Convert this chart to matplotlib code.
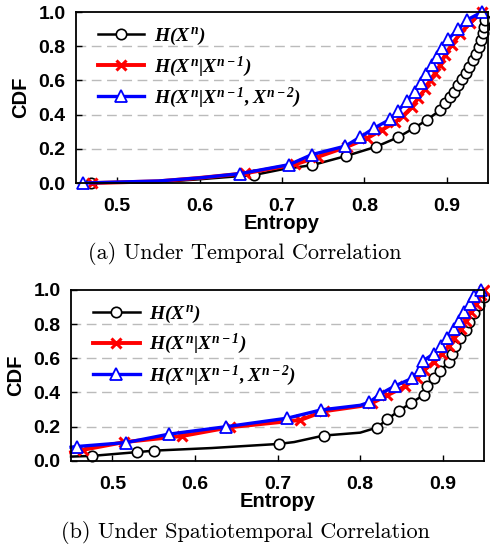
import numpy as np
import matplotlib.pyplot as plt

plt.rcParams['font.family'] = 'Liberation Sans'
plt.rcParams['font.weight'] = 'bold'
plt.rcParams['mathtext.fontset'] = 'custom'
plt.rcParams['mathtext.rm'] = 'Liberation Serif:italic:bold'
plt.rcParams['mathtext.it'] = 'Liberation Serif:italic:bold'
plt.rcParams['mathtext.bf'] = 'Liberation Serif:italic:bold'

labels = [r'$H(X^{n})$', r'$H(X^{n}|X^{n-1})$', r'$H(X^{n}|X^{n-1}, X^{n-2})$']
captions = ['(a) Under Temporal Correlation', '(b) Under Spatiotemporal Correlation']

# (a) temporal correlation
a_h_x = [0.4685, 0.55, 0.60, 0.666, 0.70, 0.737, 0.7776, 0.814, 0.8406, 0.8596, 0.8757, 0.892, 0.898,
         0.904, 0.909, 0.914, 0.919, 0.923, 0.927, 0.9315, 0.9355, 0.939, 0.9415, 0.9437, 0.945, 0.9465, 0.947]
a_h_y = [0.0, 0.005, 0.022, 0.047, 0.08, 0.105, 0.158, 0.212, 0.267, 0.32, 0.368, 0.427, 0.466,
         0.505, 0.534, 0.573, 0.608, 0.645, 0.68, 0.719, 0.752, 0.797, 0.836, 0.875, 0.914, 0.953, 1.0]
a_h1_x = [0.4697, 0.55, 0.60, 0.6555, 0.716, 0.744, 0.7788, 0.803, 0.821, 0.837, 0.847, 0.858, 0.8656,
          0.8737, 0.88, 0.886, 0.892, 0.898, 0.906, 0.916, 0.928, 0.9425]
a_h1_y = [0.0, 0.01, 0.03, 0.057, 0.109, 0.154, 0.212, 0.261, 0.31, 0.355, 0.394, 0.445, 0.5,
          0.548, 0.6, 0.645, 0.69, 0.75, 0.81, 0.874, 0.935, 1.0]
a_h2_x = [0.4583, 0.55, 0.60, 0.6495, 0.709, 0.736, 0.7767, 0.795, 0.812, 0.831, 0.841, 0.8515, 0.861,
          0.8685, 0.875, 0.882, 0.888, 0.894, 0.902, 0.914, 0.924, 0.9425]
a_h2_y = [0.0, 0.012, 0.03, 0.055, 0.108, 0.166, 0.216, 0.269, 0.322, 0.372, 0.424, 0.479, 0.532,
          0.584, 0.635, 0.688, 0.737, 0.79, 0.845, 0.898, 0.953, 1.0]

# (b) spatiotemporal correlation
b_h_x = [0.45, 0.475, 0.5296, 0.551, 0.62, 0.7012, 0.72, 0.7558, 0.80, 0.8205, 0.8326, 0.8467, 0.861,
         0.877, 0.881, 0.889, 0.897, 0.9073, 0.911, 0.915, 0.921, 0.9275, 0.9315, 0.9376, 0.9436, 0.9497, 0.95]
b_h_y = [0.025, 0.029, 0.051, 0.06, 0.075, 0.099, 0.11, 0.148, 0.165, 0.195, 0.243, 0.292, 0.337,
         0.386, 0.435, 0.483, 0.528, 0.577, 0.626, 0.672, 0.721, 0.766, 0.815, 0.864, 0.909, 0.961, 1.0]
b_h1_x = [0.45, 0.465, 0.5146, 0.584, 0.6427, 0.7275, 0.756, 0.80, 0.8144, 0.8326, 0.854, 0.869,
          0.8778, 0.889, 0.899, 0.907, 0.913, 0.9215, 0.9276, 0.934, 0.94, 0.9457, 0.95]
b_h1_y = [0.05, 0.065, 0.11, 0.145, 0.197, 0.239, 0.29, 0.32, 0.338, 0.383, 0.435, 0.483,
          0.532, 0.577, 0.626, 0.672, 0.721, 0.772, 0.819, 0.87, 0.917, 0.968, 1.0]
b_h2_x = [0.45, 0.4569, 0.5166, 0.568, 0.6378, 0.712, 0.7526, 0.80, 0.8111, 0.8245, 0.8427, 0.863,
          0.872, 0.876, 0.889, 0.898, 0.9053, 0.914, 0.919, 0.9255, 0.933, 0.9376, 0.9457]
b_h2_y = [0.08, 0.084, 0.107, 0.156, 0.2, 0.25, 0.298, 0.325, 0.343, 0.392, 0.44, 0.483,
          0.532, 0.585, 0.626, 0.672, 0.721, 0.771, 0.819, 0.87, 0.917, 0.962, 1.0]


def skip(n, idx):
    return [i for i in range(n) if i not in idx]


def draw(ax, series, caption, cap_y):
    styles = [dict(color='black', marker='o', ms=7.5, mfc='white', mec='black', mew=1.2, lw=1.8),
              dict(color='red', marker='x', ms=7, mec='red', mew=2.2, lw=2.8),
              dict(color='blue', marker='^', ms=8.5, mfc='white', mec='blue', mew=1.3, lw=2.4)]
    for (x, y, nomark), lab, st in zip(series, labels, styles):
        ax.plot(x, y, label=lab, markevery=skip(len(x), nomark), clip_on=False, **st)
    ax.set_xlim(0.45, 0.95)
    ax.set_ylim(0, 1.0)
    ax.set_xticks([0.5, 0.6, 0.7, 0.8, 0.9])
    ax.set_yticks(np.arange(0, 1.01, 0.2))
    ax.yaxis.set_major_formatter(plt.FormatStrFormatter('%.1f'))
    for g in [0.2, 0.4, 0.6, 0.8]:
        ax.axhline(g, color='#bbbbbb', lw=1.0, ls=(0, (7, 4)), zorder=0)
    ax.tick_params(direction='in', length=4, labelsize=14, width=1)
    ax.tick_params(axis='x', pad=11)
    ax.tick_params(axis='y', pad=7.5)
    for s in ax.spines.values():
        s.set_linewidth(1.3)
    ax.set_xlabel('Entropy', fontsize=14.5, fontweight='bold', labelpad=-1)
    ax.set_ylabel('CDF', fontsize=14.5, fontweight='bold', labelpad=6)
    ax.legend(loc='upper left', frameon=False, fontsize=14, handlelength=2.4,
              bbox_to_anchor=(0.02, 1.0), borderaxespad=0.3, labelspacing=0.38, handletextpad=0.5)
    plt.figtext(0.5, cap_y, caption, ha='center', va='center', family='cmr10',
                fontweight='normal', fontsize=16)


fig = plt.figure(figsize=(4.9, 5.48), dpi=100)
ax1 = fig.add_axes([0.155, 0.666, 0.841, 0.312])
ax2 = fig.add_axes([0.145, 0.159, 0.843, 0.312])

draw(ax1, [(a_h_x, a_h_y, [1, 2, 4, 26]), (a_h1_x, a_h1_y, [1, 2]), (a_h2_x, a_h2_y, [1, 2])],
     captions[0], 1 - 253 / 548)
draw(ax2, [(b_h_x, b_h_y, [0, 4, 6, 8, 26]), (b_h1_x, b_h1_y, [0, 7]), (b_h2_x, b_h2_y, [0, 7])],
     captions[1], 1 - 533 / 548)

fig.savefig('out.png', dpi=100)
